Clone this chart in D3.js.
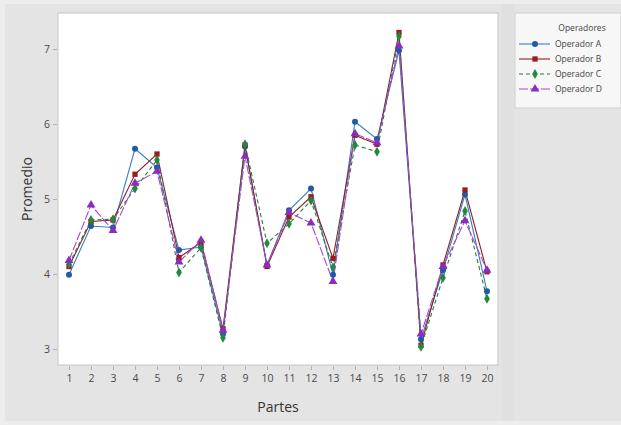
<!DOCTYPE html>
<html>
<head>
<meta charset="utf-8">
<script src="https://cdn.jsdelivr.net/npm/d3@7"></script>
<style>
  html, body { margin: 0; padding: 0; background: #ededed; }
  svg { display: block; }
</style>
</head>
<body>
<svg id="chart" width="621" height="425"></svg>
<script>
// Parts measured and mean reading per operator
const partes = d3.range(1, 21);
const operadorA = [3.99, 4.64, 4.62, 5.67, 5.42, 4.32, 4.36, 3.20, 5.70, 4.12, 4.85, 5.14, 3.99, 6.03, 5.80, 6.98, 3.13, 4.05, 5.06, 3.77];
const operadorB = [4.10, 4.70, 4.72, 5.33, 5.60, 4.22, 4.42, 3.27, 5.72, 4.10, 4.76, 5.03, 4.21, 5.85, 5.73, 7.22, 3.05, 4.12, 5.12, 4.03];
const operadorC = [4.13, 4.72, 4.73, 5.14, 5.52, 4.02, 4.35, 3.15, 5.73, 4.41, 4.67, 4.98, 4.09, 5.72, 5.63, 7.17, 3.03, 3.95, 4.84, 3.67];
const operadorD = [4.18, 4.92, 4.58, 5.21, 5.37, 4.16, 4.45, 3.25, 5.57, 4.12, 4.82, 4.68, 3.90, 5.87, 5.75, 7.04, 3.20, 4.10, 4.71, 4.05];
const nombres = ["Operador A", "Operador B", "Operador C", "Operador D"];
const yTicks = [3, 4, 5, 6, 7];

const series = [
  { name: nombres[0], values: operadorA, color: "#1d5aa8", line: "#3b7cc4", dash: null, shape: d3.symbolCircle },
  { name: nombres[1], values: operadorB, color: "#9c1b1b", line: "#8e2020", dash: null, shape: d3.symbolSquare },
  { name: nombres[2], values: operadorC, color: "#1f8a3c", line: "#2a7a3a", dash: "4,3", shape: d3.symbolDiamond },
  { name: nombres[3], values: operadorD, color: "#8a2bc2", line: "#a24ad0", dash: "9,2", shape: d3.symbolTriangle }
];
const markerSize = s => s.shape === d3.symbolTriangle ? 34 : 28;

const svg = d3.select("#chart");
const font = "'Open Sans', 'Noto Sans', sans-serif";

// Panel background
svg.append("rect").attr("x", 5).attr("y", 4).attr("width", 616).attr("height", 417).attr("fill", "#e4e4e4");

const plot = { left: 58, right: 498, top: 13, bottom: 365 };

const x = d3.scaleLinear().domain([0.5, 20.5]).range([plot.left, plot.right]);
const y = d3.scaleLinear().domain([2.787, 7.48]).range([plot.bottom, plot.top]);

svg.append("rect")
  .attr("x", plot.left).attr("y", plot.top)
  .attr("width", plot.right - plot.left).attr("height", plot.bottom - plot.top)
  .attr("fill", "#ffffff").attr("stroke", "#c4c4c4").attr("stroke-width", 1);

// Axes
const yAxis = svg.append("g")
  .attr("transform", `translate(${plot.left - 1},0)`)
  .call(d3.axisLeft(y).tickValues(yTicks).tickSize(4).tickFormat(d3.format("d")));
const xAxis = svg.append("g")
  .attr("transform", `translate(0,${plot.bottom + 1})`)
  .call(d3.axisBottom(x).tickValues(partes).tickSize(4).tickFormat(d3.format("d")));
[yAxis, xAxis].forEach(g => {
  g.select(".domain").remove();
  g.selectAll(".tick line").attr("stroke", "#b0b0b0");
  g.selectAll(".tick text").attr("fill", "#4a4a4a").attr("font-size", 10.5).attr("font-family", font);
});
yAxis.selectAll(".tick text").attr("x", -7);
xAxis.selectAll(".tick text").attr("y", 9);

svg.append("text")
  .attr("x", 278).attr("y", 412)
  .attr("text-anchor", "middle")
  .attr("font-family", font).attr("font-size", 14).attr("fill", "#333")
  .text("Partes");
svg.append("text")
  .attr("transform", "translate(32,189) rotate(-90)")
  .attr("text-anchor", "middle")
  .attr("font-family", font).attr("font-size", 14).attr("fill", "#333")
  .text("Promedio");

// Lines and markers
const lineGen = d3.line().x((d, i) => x(partes[i])).y(d => y(d));
series.forEach(s => {
  svg.append("path")
    .datum(s.values)
    .attr("d", lineGen)
    .attr("fill", "none")
    .attr("stroke", s.line)
    .attr("stroke-width", 1.1)
    .attr("stroke-dasharray", s.dash);
});
series.forEach(s => {
  svg.append("g").selectAll("path")
    .data(s.values)
    .join("path")
    .attr("transform", (d, i) => `translate(${x(partes[i])},${y(d)})`)
    .attr("d", d3.symbol().type(s.shape).size(markerSize(s)))
    .attr("fill", s.color);
});

// Legend
const leg = svg.append("g");
leg.append("rect").attr("x", 502).attr("y", 4).attr("width", 12).attr("height", 417).attr("fill", "#e0e0e0");
leg.append("rect").attr("x", 515).attr("y", 13).attr("width", 106).attr("height", 95)
  .attr("fill", "#f7f7f7").attr("stroke", "#cfcfcf");
leg.append("text").attr("x", 582).attr("y", 31).attr("text-anchor", "middle")
  .attr("font-family", font).attr("font-size", 8.5).attr("fill", "#444").text("Operadores");
series.forEach((s, i) => {
  const yy = 44 + i * 15;
  leg.append("line").attr("x1", 519).attr("x2", 550).attr("y1", yy).attr("y2", yy)
    .attr("stroke", s.line).attr("stroke-width", 1.1).attr("stroke-dasharray", s.dash);
  leg.append("path").attr("transform", `translate(535,${yy})`)
    .attr("d", d3.symbol().type(s.shape).size(markerSize(s)))
    .attr("fill", s.color);
  leg.append("text").attr("x", 555).attr("y", yy + 3)
    .attr("font-family", font).attr("font-size", 8.5).attr("fill", "#444").text(s.name);
});
</script>
</body>
</html>
